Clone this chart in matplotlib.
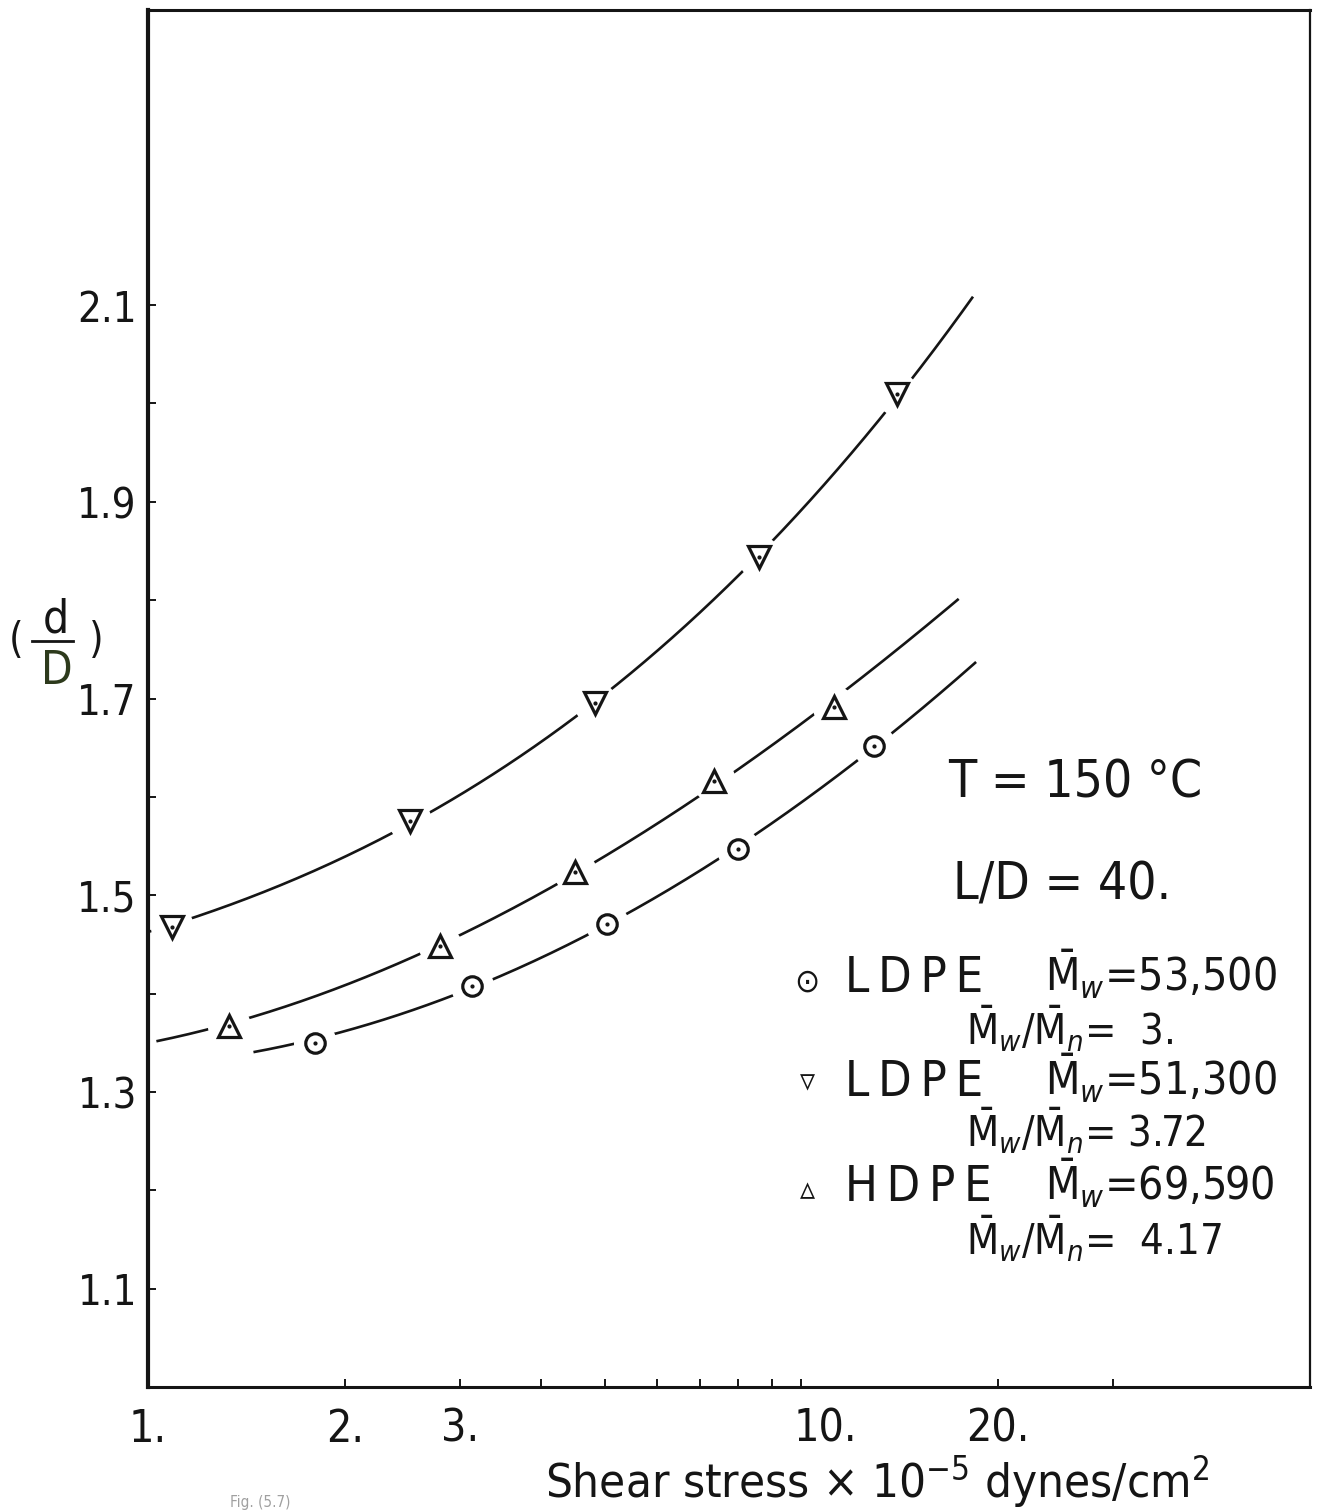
import numpy as np
import matplotlib
matplotlib.use("Agg")
import matplotlib.pyplot as plt
import matplotlib.transforms as mtransforms
from matplotlib.ticker import FixedLocator, FixedFormatter, NullFormatter

# ---------------- data ----------------
ldpe1_x = [1.80, 3.13, 5.04, 8.0, 12.9]          # LDPE Mw=53,500 (circles)
ldpe1_y = [1.350, 1.408, 1.471, 1.547, 1.652]
ldpe2_x = [1.09, 2.52, 4.83, 8.6, 14.0]          # LDPE Mw=51,300 (down triangles)
ldpe2_y = [1.468, 1.575, 1.695, 1.844, 2.010]
hdpe_x = [1.33, 2.80, 4.50, 7.34, 11.2]          # HDPE Mw=69,590 (up triangles)
hdpe_y = [1.367, 1.448, 1.524, 1.616, 1.691]

# end points of the hand-drawn curves
ldpe1_curve_x = [1.45, 18.5]
ldpe1_curve_y = [1.341, 1.737]
ldpe2_curve_x = [1.0, 18.3]
ldpe2_curve_y = [1.463, 2.108]
hdpe_curve_x = [1.03, 17.4]
hdpe_curve_y = [1.352, 1.802]

x_major = [1, 2, 3, 10, 20]
x_major_labels = ["1.", "2.", "3.", "10.", "20."]
x_minor = [4, 5, 6, 7, 8, 9, 30]
y_major = [1.1, 1.3, 1.5, 1.7, 1.9, 2.1]
y_major_labels = ["1.1", "1.3", "1.5", "1.7", "1.9", "2.1"]
y_minor = [1.2, 1.4, 1.6, 1.8, 2.0]

plt.rcParams["font.family"] = ["DejaVu Sans"]
plt.rcParams["font.stretch"] = "condensed"
plt.rcParams["mathtext.fontset"] = "custom"
plt.rcParams["mathtext.rm"] = "DejaVu Sans:stretch=condensed"
plt.rcParams["mathtext.it"] = "DejaVu Sans:italic:stretch=condensed"
plt.rcParams["mathtext.sf"] = "DejaVu Sans:stretch=condensed"

W, H = 1332, 1512
fig = plt.figure(figsize=(W / 100, H / 100), dpi=100)
L, R, T, B = 148, 1310, 10, 1387
ax = fig.add_axes([L / W, 1 - B / H, (R - L) / W, (B - T) / H])

ax.set_xscale("log")
ax.set_xlim(1, 60)
ax.set_ylim(1.0, 2.4)

INK = "#151515"


def curve(px, py, cx, cy):
    lx = np.log10(np.concatenate([px, cx]))
    ly = np.concatenate([py, cy])
    w = np.concatenate([np.ones(len(px)), 2.0 * np.ones(len(cx))])
    c = np.polyfit(lx, ly, 3, w=w)
    g = np.linspace(np.log10(cx[0]), np.log10(cx[1]), 300)
    return 10 ** g, np.polyval(c, g)


series = [
    (ldpe1_x, ldpe1_y, ldpe1_curve_x, ldpe1_curve_y, "o", 14),
    (ldpe2_x, ldpe2_y, ldpe2_curve_x, ldpe2_curve_y, "v", 16),
    (hdpe_x, hdpe_y, hdpe_curve_x, hdpe_curve_y, "^", 16),
]
for px, py, cx, cy, m, ms in series:
    gx, gy = curve(px, py, cx, cy)
    ax.plot(gx, gy, color=INK, lw=1.9, zorder=2, solid_capstyle="butt")
    ax.plot(px, py, ls="none", marker="o", ms=31, mfc="white", mec="none", zorder=3)
    ax.plot(px, py, ls="none", marker=m, ms=ms, mfc="white", mec=INK, mew=2.3, zorder=4)
    ax.plot(px, py, ls="none", marker=".", ms=4, color=INK, zorder=5)

# axes styling
for s in ["left", "right", "top", "bottom"]:
    ax.spines[s].set_color(INK)
ax.spines["left"].set_linewidth(3.0)
ax.spines["bottom"].set_linewidth(2.2)
ax.spines["top"].set_linewidth(2.2)
ax.spines["right"].set_linewidth(1.6)

ax.xaxis.set_major_locator(FixedLocator(x_major))
ax.xaxis.set_major_formatter(FixedFormatter(x_major_labels))
ax.xaxis.set_minor_locator(FixedLocator(x_minor))
ax.xaxis.set_minor_formatter(NullFormatter())
ax.yaxis.set_major_locator(FixedLocator(y_major))
ax.yaxis.set_major_formatter(FixedFormatter(y_major_labels))
ax.yaxis.set_minor_locator(FixedLocator(y_minor))

ax.tick_params(axis="both", which="both", direction="in", length=6, width=1.4, color=INK)
ax.tick_params(axis="x", which="major", labelsize=32, pad=15, labelcolor=INK)
ax.tick_params(axis="y", which="major", labelsize=30, pad=8, labelcolor=INK)

# the hand-lettered "10." sits a little right of its tick
fig.canvas.draw()
for lab in ax.get_xticklabels():
    if lab.get_text() == "10.":
        lab.set_transform(lab.get_transform() +
                          mtransforms.ScaledTranslation(24 / 100, 0, fig.dpi_scale_trans))

# x label
fig.text(877 / W, 1 - 1481 / H,
         r"Shear stress $\times$ 10$^{-5}$ dynes/cm$^{2}$",
         ha="center", va="center", fontsize=34, color=INK)

# y label  (d/D)
fig.text(16 / W, 1 - 641 / H, "(", ha="center", va="center", fontsize=30, color=INK)
fig.text(56 / W, 1 - 620 / H, "d", ha="center", va="center", fontsize=33, color=INK)
fig.text(57 / W, 1 - 672 / H, "D", ha="center", va="center", fontsize=33, color="#2d3a1c")
fig.add_artist(plt.Line2D([32 / W, 73 / W], [1 - 641 / H, 1 - 641 / H], color=INK, lw=2.0))
fig.text(96 / W, 1 - 641 / H, ")", ha="center", va="center", fontsize=30, color=INK)

# annotations
fig.text(948 / W, 1 - 797 / H, "T = 150 °C", ha="left", va="baseline", fontsize=37, color=INK)
fig.text(953 / W, 1 - 900 / H, "L/D = 40.", ha="left", va="baseline", fontsize=37, color=INK)

rows = [
    ("⊙", 982, 992, "L\u2009D\u2009P\u2009E", r"$\bar{\mathrm{M}}_{w}$=53,500",
     1045, r"$\bar{\mathrm{M}}_{w}/\bar{\mathrm{M}}_{n}$=  3."),
    ("▿", 1082, 1096, "L\u2009D\u2009P\u2009E", r"$\bar{\mathrm{M}}_{w}$=51,300",
     1147, r"$\bar{\mathrm{M}}_{w}/\bar{\mathrm{M}}_{n}$= 3.72"),
    ("▵", 1190, 1201, "H\u2009D\u2009P\u2009E", r"$\bar{\mathrm{M}}_{w}$=69,590",
     1255, r"$\bar{\mathrm{M}}_{w}/\bar{\mathrm{M}}_{n}$=  4.17"),
]
for sym, ys, yb, name, mw, yb2, ratio in rows:
    fig.text(807 / W, 1 - ys / H, sym, ha="center", va="center", fontsize=24,
             color=INK)
    fig.text(845 / W, 1 - yb / H, name, ha="left", va="baseline", fontsize=35, color=INK)
    fig.text(1045 / W, 1 - yb / H, mw, ha="left", va="baseline", fontsize=32, color=INK)
    fig.text(966 / W, 1 - yb2 / H, ratio, ha="left", va="baseline", fontsize=30, color=INK)

# caption (only its top is visible in the scan)
fig.text(230 / W, 1 - 1510 / H, "Fig. (5.7)", ha="left", va="bottom", fontsize=11,
         color="#a0a0a0")

fig.savefig("out.png", dpi=100, facecolor="white")
